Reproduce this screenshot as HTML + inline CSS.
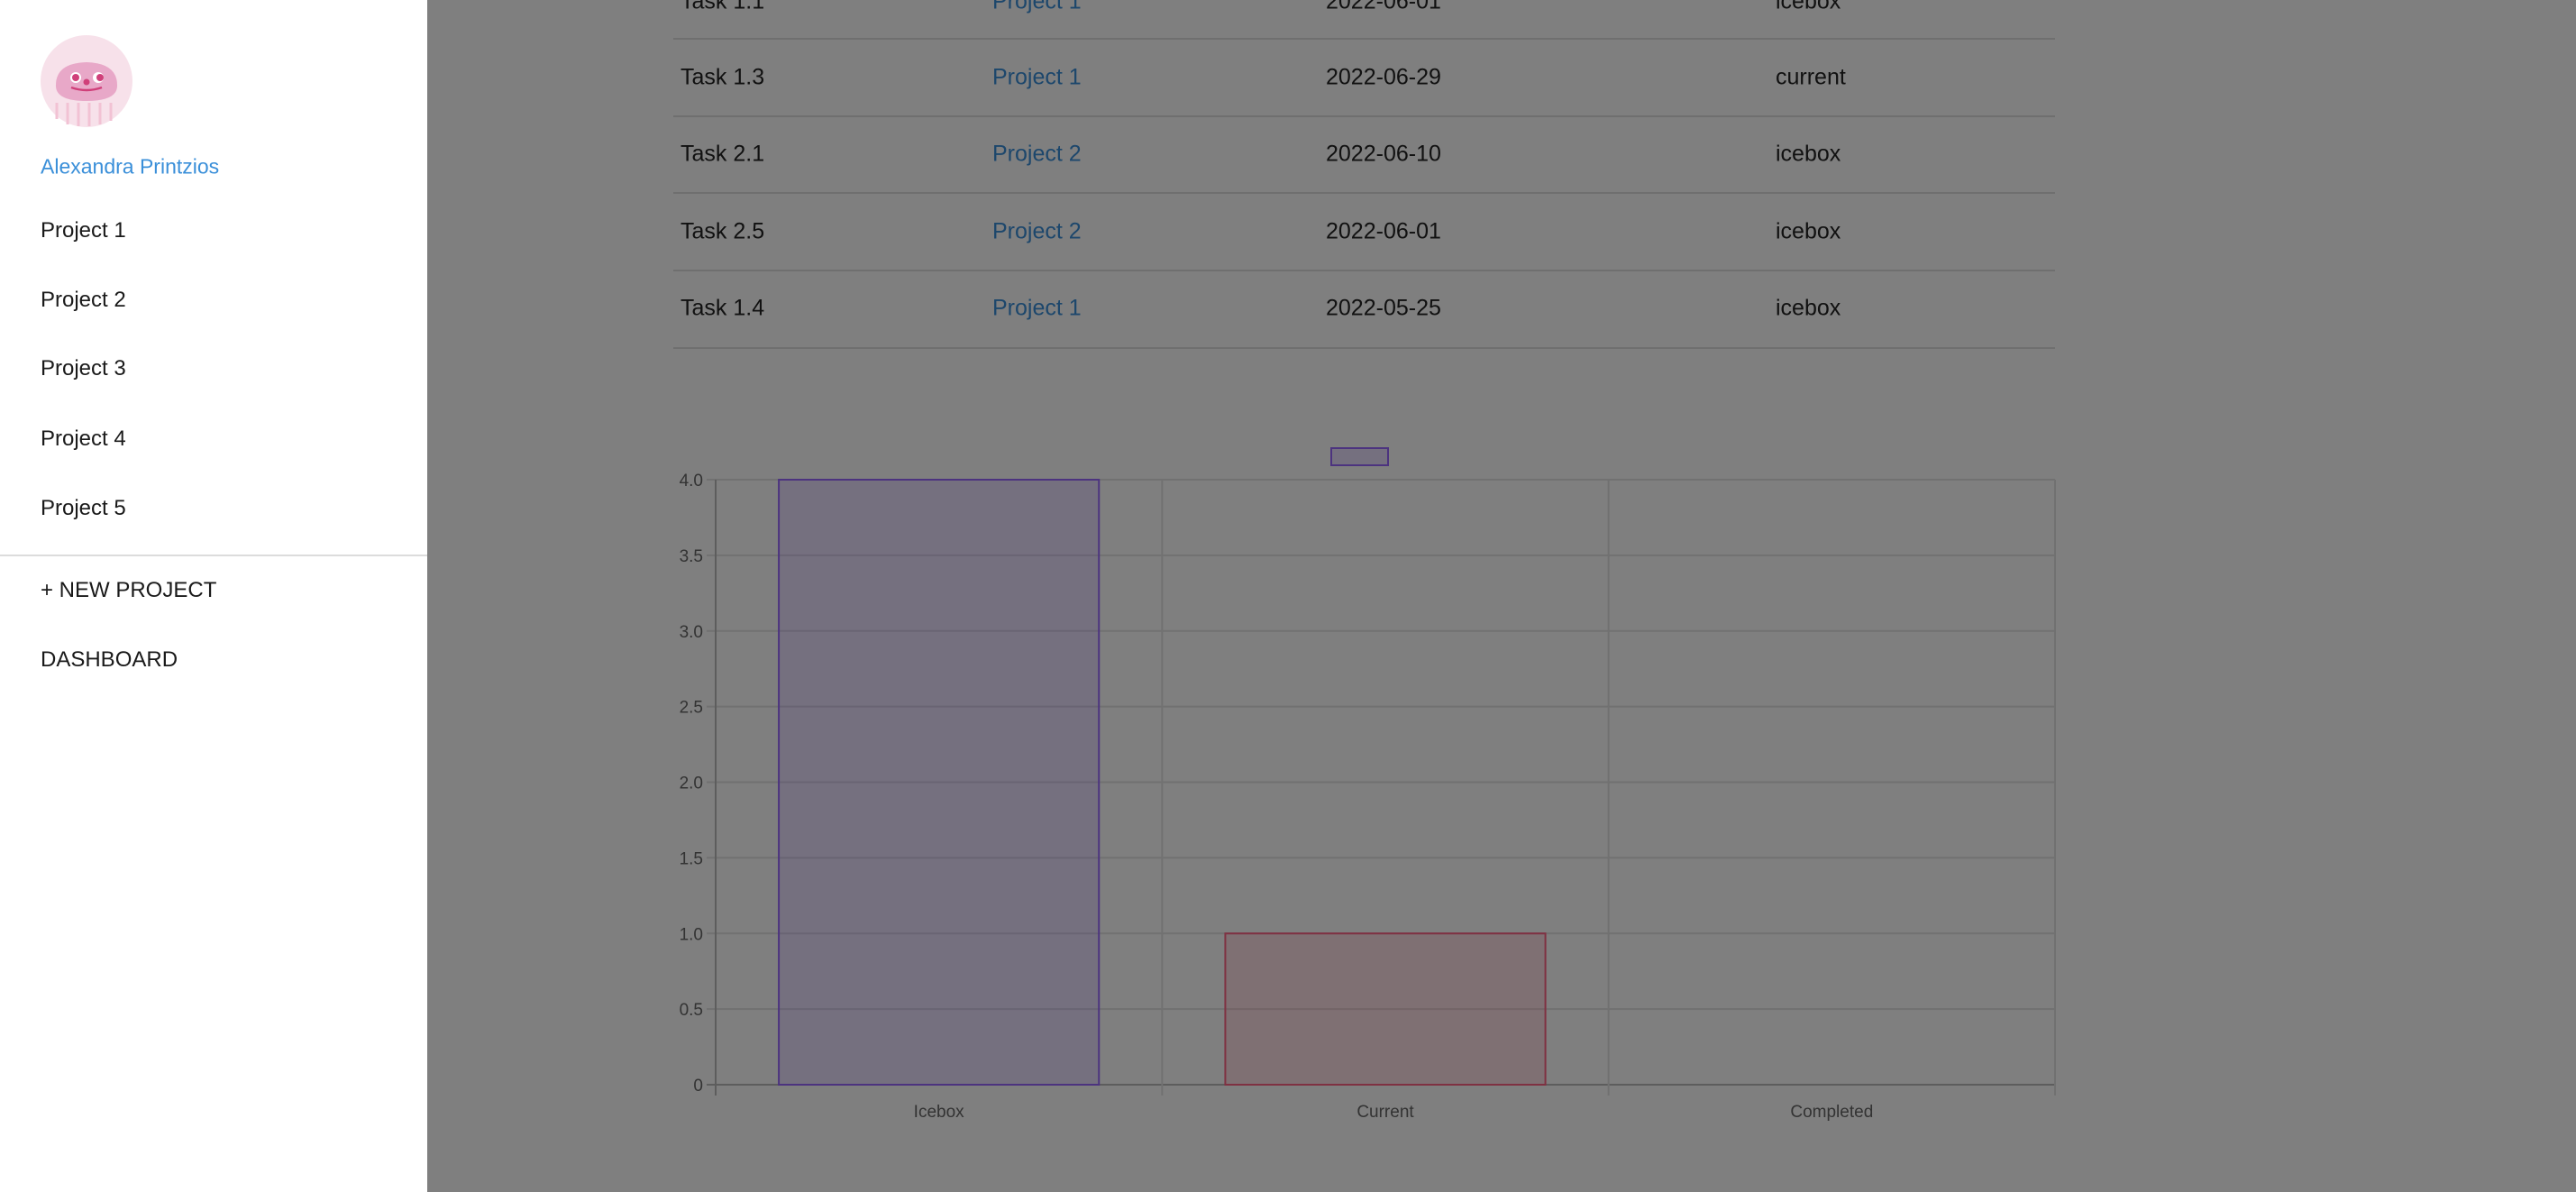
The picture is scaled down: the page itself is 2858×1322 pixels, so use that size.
<!DOCTYPE html>
<html><head><meta charset="utf-8"><style>
html,body{margin:0;padding:0;width:2858px;height:1322px;overflow:hidden;background:#fff;font-family:"Liberation Sans",sans-serif;}
#main{position:absolute;left:0;top:0;width:2858px;height:1322px;}
.cell{position:absolute;font-size:25px;color:#222;transform:translateY(-50%);white-space:nowrap;}
.link{color:#3a8fd9;}
.hr{position:absolute;left:747px;width:1533px;height:2px;background:#dedede;}
#overlay{position:absolute;left:0;top:0;width:2858px;height:1322px;background:rgba(0,0,0,0.5);}
#sidebar{position:absolute;left:0;top:0;width:474px;height:1322px;background:#fff;}
.nav{position:absolute;left:45px;font-size:24px;color:#1a1a1a;transform:translateY(-50%);white-space:nowrap;}
</style></head><body>
<div id="main">
  <div>
    <div class="cell" style="left:755px;top:2px">Task 1.1</div>
    <div class="cell link" style="left:1101px;top:2px">Project 1</div>
    <div class="cell" style="left:1471px;top:2px">2022-06-01</div>
    <div class="cell" style="left:1970px;top:2px">icebox</div>
    <div class="hr" style="top:42px"></div>
    <div class="cell" style="left:755px;top:86px">Task 1.3</div>
    <div class="cell link" style="left:1101px;top:86px">Project 1</div>
    <div class="cell" style="left:1471px;top:86px">2022-06-29</div>
    <div class="cell" style="left:1970px;top:86px">current</div>
    <div class="hr" style="top:128px"></div>
    <div class="cell" style="left:755px;top:171px">Task 2.1</div>
    <div class="cell link" style="left:1101px;top:171px">Project 2</div>
    <div class="cell" style="left:1471px;top:171px">2022-06-10</div>
    <div class="cell" style="left:1970px;top:171px">icebox</div>
    <div class="hr" style="top:213px"></div>
    <div class="cell" style="left:755px;top:257px">Task 2.5</div>
    <div class="cell link" style="left:1101px;top:257px">Project 2</div>
    <div class="cell" style="left:1471px;top:257px">2022-06-01</div>
    <div class="cell" style="left:1970px;top:257px">icebox</div>
    <div class="hr" style="top:299px"></div>
    <div class="cell" style="left:755px;top:342px">Task 1.4</div>
    <div class="cell link" style="left:1101px;top:342px">Project 1</div>
    <div class="cell" style="left:1471px;top:342px">2022-05-25</div>
    <div class="cell" style="left:1970px;top:342px">icebox</div>
    <div class="hr" style="top:385px"></div>
  </div>
  <svg id="chart" width="2858" height="1322" style="position:absolute;left:0;top:0"></svg>
</div>
<div id="overlay"></div>
<div id="sidebar">
  <svg width="110" height="110" style="position:absolute;left:41px;top:36px">
    <circle cx="55" cy="54" r="51" fill="#f7e1ea"/>
    <g stroke="#f2c2d4" stroke-width="3">
      <line x1="22" y1="78" x2="22" y2="96"/><line x1="34" y1="78" x2="34" y2="102"/><line x1="46" y1="78" x2="46" y2="104"/><line x1="58" y1="78" x2="58" y2="104"/><line x1="70" y1="78" x2="70" y2="102"/><line x1="82" y1="78" x2="82" y2="98"/>
    </g>
    <path d="M21 60 Q20 34 55 33 Q90 34 89 60 Q88 76 55 76 Q22 76 21 60Z" fill="#e8a8c8"/>
    <circle cx="43" cy="50" r="6" fill="#fff"/><circle cx="68" cy="50" r="6" fill="#fff"/>
    <circle cx="43" cy="50" r="4" fill="#d0407a"/><circle cx="70" cy="50" r="4" fill="#d0407a"/>
    <circle cx="55" cy="55" r="3.5" fill="#d0407a"/>
    <path d="M38 61 Q55 67 72 61" stroke="#d0407a" stroke-width="2.5" fill="none"/>
  </svg>
  <div class="nav" style="top:185px;color:#3a8fd9;font-size:23px">Alexandra Printzios</div>
  <div class="nav" style="top:256px">Project 1</div>
  <div class="nav" style="top:333px">Project 2</div>
  <div class="nav" style="top:409px">Project 3</div>
  <div class="nav" style="top:487px">Project 4</div>
  <div class="nav" style="top:564px">Project 5</div>
  <div style="position:absolute;left:0;top:615px;width:474px;height:2px;background:#dcdcdc"></div>
  <div class="nav" style="top:655px">+ NEW PROJECT</div>
  <div class="nav" style="top:732px">DASHBOARD</div>
</div>
<script>
const categories = ["Icebox", "Current", "Completed"];
const values = [4, 1, 0];
const yTicks = [0, 0.5, 1.0, 1.5, 2.0, 2.5, 3.0, 3.5, 4.0];
const yTickLabels = ["0", "0.5", "1.0", "1.5", "2.0", "2.5", "3.0", "3.5", "4.0"];
const fills = ["rgba(153,102,255,0.2)", "rgba(255,99,132,0.2)", "rgba(75,192,192,0.2)"];
const strokes = ["rgb(153,102,255)", "rgb(255,99,132)", "rgb(75,192,192)"];

const svg = document.getElementById('chart');
const NS = 'http://www.w3.org/2000/svg';
const X0 = 794, X1 = 2280, Y0 = 1203, Y1 = 532, YMAX = 4;
const band = (X1 - X0) / categories.length;
function yScale(v){ return Y0 - (v / YMAX) * (Y0 - Y1); }
function xBand(i){ return X0 + i * band; }
function mk(tag, attrs){ const e = document.createElementNS(NS, tag); for (const k in attrs) e.setAttribute(k, attrs[k]); svg.appendChild(e); return e; }

yTicks.forEach((t, i) => {
  const y = yScale(t);
  const g = mk('line', {x1: X0 - 10, x2: X1, y1: y, y2: y, stroke: i === 0 ? '#bbb' : '#e2e2e2', 'stroke-width': 2});
  
  
  const l = mk('text', {x: X0 - 14, y: y + 7, 'text-anchor': 'end', 'font-size': 19, fill: '#666', 'font-family': 'Liberation Sans, sans-serif'});
  l.textContent = yTickLabels[i];
  
  
});
for (let i = 0; i <= categories.length; i++) {
  const x = xBand(i);
  const v = mk('line', {x1: x, x2: x, y1: Y1, y2: Y0 + 12, stroke: i === 0 ? '#bbb' : '#e2e2e2', 'stroke-width': 2});
  
  
}
categories.forEach((c, i) => {
  const bw = band * 0.717;
  const bx = xBand(i) + (band - bw) / 2;
  const top = yScale(values[i]);
  if (values[i] > 0) {
    const r = mk('rect', {x: bx, y: top, width: bw, height: Y0 - top, fill: fills[i], stroke: strokes[i], 'stroke-width': 2});
    
    
  }
  const t = mk('text', {x: xBand(i) + band / 2, y: 1239, 'text-anchor': 'middle', 'font-size': 19, fill: '#666', 'font-family': 'Liberation Sans, sans-serif'});
  t.textContent = c;
  
  
});
const lg = mk('rect', {x: 1477, y: 497, width: 63, height: 19, fill: fills[0], stroke: strokes[0], 'stroke-width': 2});


</script>
</body></html>
